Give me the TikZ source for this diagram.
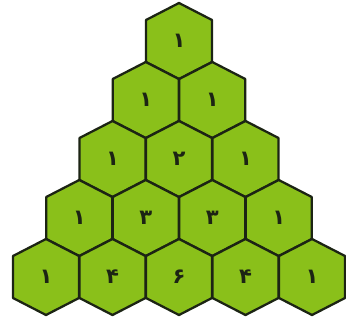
\documentclass[tikz,border=0pt]{standalone}
\usepackage{fontspec}
\newfontfamily\fadigits[Script=Arabic]{DejaVu Sans}
\definecolor{leaf}{RGB}{138,192,26}
\definecolor{rim}{RGB}{28,36,20}
\tikzset{
  cell/.style={draw=rim, fill=leaf, line width=1.3pt, line join=round},
  num/.style={font=\fadigits\bfseries\fontsize{12}{12}\selectfont, text=rim, inner sep=0pt},
}
\begin{document}
\begin{tikzpicture}[x=0.02cm,y=-0.02cm]
  \useasboundingbox (0,0) rectangle (346,325);
  % rows of Pascal's triangle, row r has r+1 cells
  \foreach \r/\k/\d in {0/0/۱,
      1/0/۱, 1/1/۱,
      2/0/۱, 2/1/۲, 2/2/۱,
      3/0/۱, 3/1/۳, 3/2/۳, 3/3/۱,
      4/0/۱, 4/1/۴, 4/2/۶, 4/3/۴, 4/4/۱}{
    \pgfmathsetmacro{\cx}{179+(\k-\r/2)*66.5}
    \pgfmathsetmacro{\cy}{41+\r*59}
    \draw[cell] (\cx,\cy) ++(0,-38) -- ++(33,17) -- ++(0,42)
      -- ++(-33,17) -- ++(-33,-17) -- ++(0,-42) -- cycle;
    \node[num] (h-\r-\k) at (\cx,\cy) {\d};
  }
\end{tikzpicture}
\end{document}
